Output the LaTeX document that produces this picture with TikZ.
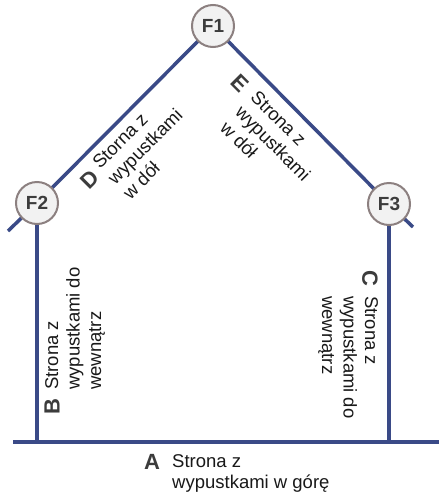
\documentclass[tikz,border=0pt]{standalone}
\usepackage{fontspec}
\setmainfont{Liberation Sans}
\usetikzlibrary{backgrounds}
\definecolor{wall}{RGB}{58,74,135}
\definecolor{ring}{RGB}{140,128,128}
\definecolor{ringfill}{RGB}{242,242,242}
\definecolor{ink}{RGB}{25,25,25}
\definecolor{lettercol}{RGB}{60,60,60}
\tikzset{
  joint/.style={circle, draw=ring, line width=2pt, fill=ringfill, minimum size=42pt,
    inner sep=0pt, font=\fontsize{19}{19}\selectfont\bfseries, text=lettercol},
  wallline/.style={draw=wall, line width=3.5pt},
  sidetag/.style={font=\fontsize{22}{22}\selectfont\bfseries, text=lettercol, inner sep=0pt},
  sidetext/.style={font=\fontsize{18.5}{21.5}\selectfont, text=ink, align=left, inner sep=0pt, anchor=base west},
}
\begin{document}
\begin{tikzpicture}[x=1pt,y=-1pt]
\useasboundingbox (0,0) rectangle (439,493);
% joints
\node[joint] (F1) at (213,26) {F1};
\node[joint] (F2) at (37,203) {F2};
\node[joint] (F3) at (389,204) {F3};
\coordinate (rl) at (8,231);
\coordinate (rr) at (413,227);
\coordinate (bl) at (13,442);
\coordinate (br) at (439,442);
\begin{scope}[on background layer]
  \fill[white] (0,0) rectangle (439,493);
  \draw[wallline] (rl) -- (F2.center) -- (F1.center) -- (F3.center) -- (rr);
  \draw[wallline] (F2.center) -- (F2.center |- bl);
  \draw[wallline] (F3.center) -- (F3.center |- br);
  \draw[wallline] (bl) -- (br);
\end{scope}
% labels
\node[sidetag, rotate=45] (tD) at (90,180) {D};
\node[sidetext, rotate=45] (lD) at (130.4,200.4) {Storna z\\wypustkami\\w dół};
\node[sidetag, rotate=-45] (tE) at (240,83) {E};
\node[sidetext, rotate=-45] (lE) at (219.1,128.9) {Strona z\\wypustkami\\w dół};
\node[sidetag, rotate=90] (tB) at (52,407) {B};
\node[sidetext, rotate=90] (lB) at (101,390) {Strona z\\wypustkami do\\wewnątrz};
\node[sidetag, rotate=-90] (tC) at (370,278) {C};
\node[sidetext, rotate=-90] (lC) at (322,296) {Strona z\\wypustkami do\\wewnątrz};
\node[sidetag] (tA) at (152,462) {A};
\node[sidetext] (lA) at (172,488.5) {Strona z\\wypustkami w górę};
\end{tikzpicture}
\end{document}
